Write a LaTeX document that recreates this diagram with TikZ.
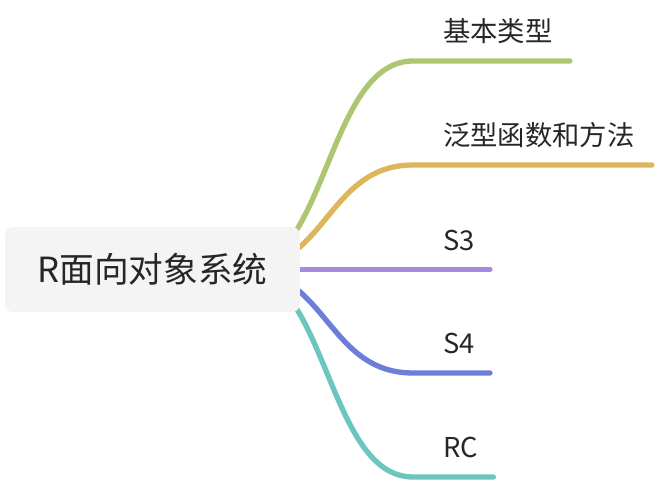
\documentclass[tikz,border=0pt]{standalone}
\usepackage{fontspec}
\setmainfont{Noto Sans CJK SC}
\usepackage{xcolor}
\usetikzlibrary{calc,backgrounds}
\definecolor{ink}{HTML}{262626}
\definecolor{hubfill}{HTML}{F4F4F4}
\definecolor{leafgreen}{HTML}{ADC66F}
\definecolor{leafgold}{HTML}{DDB55B}
\definecolor{leafpurple}{HTML}{A58AE2}
\definecolor{leafblue}{HTML}{6C7ED9}
\definecolor{leafteal}{HTML}{6DC5BF}

\begin{document}
\begin{tikzpicture}[
    x=0.75pt, y=0.75pt,
    topic/.style={rounded corners=6pt, fill=hubfill, text=ink, minimum width=221pt, minimum height=64pt, inner sep=0pt, font=\fontsize{26}{30}\selectfont},
    leaf/.style={anchor=base west, inner sep=0pt, text=ink, font=\fontsize{20.5}{24}\selectfont},
    branch/.style={line width=4pt, line cap=round}
  ]
  \useasboundingbox (0,0) rectangle (658,482);
  \node[topic] (root) at (152.5,212.5) {R面向对象系统};
  \coordinate (hub) at ($(root.east)+(-59,0)$);

  \node[leaf] (basic) at (443,440) {基本类型};
  \node[leaf] (generic) at (443,336) {泛型函数和方法};
  \node[leaf] (s3) at (443,231.5) {S3};
  \node[leaf] (s4) at (443,128) {S4};
  \node[leaf] (rc) at (443,24) {RC};
  \coordinate (s3end) at ($(s3.base east)+(15,-19)$);

  % branches run behind the central topic
  \begin{scope}[on background layer]
    \draw[branch, leafgreen] (hub) .. controls +(86,0) and +(-86,0) .. ($(basic.base west)+(-30,-19)$) -- ($(basic.base east)+(17,-19)$);
    \draw[branch, leafgold] (hub) .. controls +(86,0) and +(-86,0) .. ($(generic.base west)+(-30,-19)$) -- ($(generic.base east)+(17,-19)$);
    \draw[branch, leafpurple] (hub) -- (hub -| s3end);
    \draw[branch, leafblue] (hub) .. controls +(86,0) and +(-86,0) .. ($(s4.base west)+(-30,-19)$) -- ($(s4.base east)+(15,-19)$);
    \draw[branch, leafteal] (hub) .. controls +(86,0) and +(-86,0) .. ($(rc.base west)+(-30,-19)$) -- ($(rc.base east)+(15,-19)$);
  \end{scope}
\end{tikzpicture}
\end{document}
